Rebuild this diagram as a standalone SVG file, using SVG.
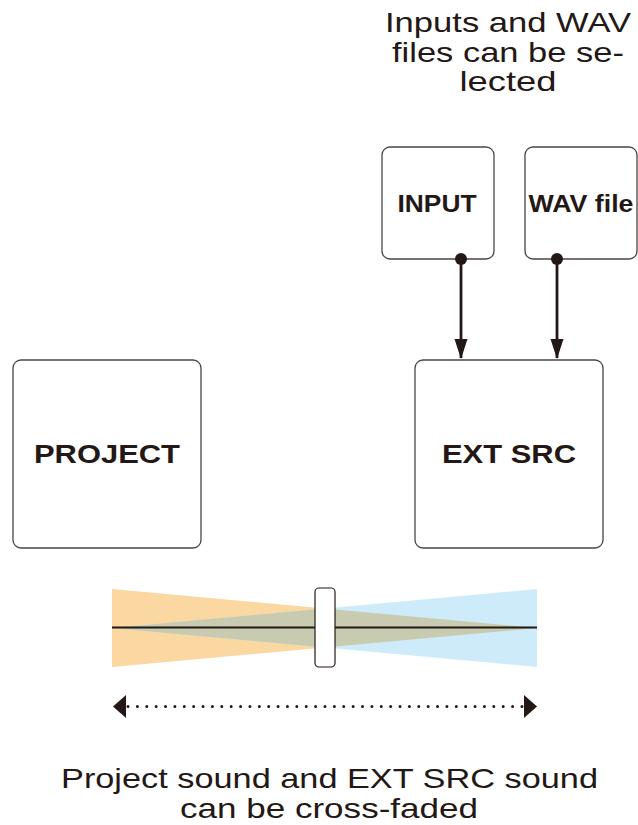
<svg xmlns="http://www.w3.org/2000/svg" width="638" height="825" viewBox="0 0 638 825">
<style>
.box{fill:#ffffff;stroke:#4a4543;stroke-width:1.3}
.lbl{font-family:"Liberation Sans",Arial,sans-serif;font-weight:bold;fill:#231815;text-anchor:middle}
.cap{font-family:"Liberation Sans",Arial,sans-serif;fill:#231815;text-anchor:middle;font-size:28px}
.conn{stroke:#231815;stroke-width:2.8;fill:none}
</style>
<defs>
<marker id="ah" viewBox="0 0 20 14" refX="19" refY="7" markerWidth="20" markerHeight="14" markerUnits="userSpaceOnUse" orient="auto">
<path d="M0,0.5 L20,7 L0,13.5 Z" fill="#231815"/>
</marker>
</defs>
<rect width="638" height="825" fill="#ffffff"/>

<g id="caption-top">
<text class="cap" x="508" y="32" textLength="246" lengthAdjust="spacingAndGlyphs">Inputs and WAV</text>
<text class="cap" x="508" y="62" textLength="232" lengthAdjust="spacingAndGlyphs">files can be se-</text>
<text class="cap" x="508" y="91" textLength="97" lengthAdjust="spacingAndGlyphs">lected</text>
</g>

<g id="input">
<rect class="box" x="382" y="147" width="112" height="112" rx="8"/>
<text class="lbl" x="437" y="212" font-size="24" textLength="79" lengthAdjust="spacingAndGlyphs">INPUT</text>
</g>
<g id="wav">
<rect class="box" x="525" y="147" width="112" height="112" rx="8"/>
<text class="lbl" x="581" y="212" font-size="24" textLength="105" lengthAdjust="spacingAndGlyphs">WAV file</text>
</g>
<g id="project">
<rect class="box" x="13" y="360" width="188" height="188" rx="8"/>
<text class="lbl" x="107" y="463" font-size="26" textLength="146" lengthAdjust="spacingAndGlyphs">PROJECT</text>
</g>
<g id="extsrc">
<rect class="box" x="415" y="360" width="188" height="188" rx="8"/>
<text class="lbl" x="509" y="463" font-size="26" textLength="134" lengthAdjust="spacingAndGlyphs">EXT SRC</text>
</g>

<g id="connectors">
<line class="conn" x1="461" y1="259" x2="461" y2="358" marker-end="url(#ah)"/>
<circle cx="461" cy="259" r="6" fill="#231815"/>
<line class="conn" x1="557" y1="259" x2="557" y2="358" marker-end="url(#ah)"/>
<circle cx="557" cy="259" r="6" fill="#231815"/>
</g>

<g id="crossfader">
<polygon points="112,589 112,667 537,628" fill="#fbd7a1"/>
<polygon points="537,589 537,667 112,628" fill="#cdebf8"/>
<polygon points="112,628 324.5,608.5 537,628 324.5,647.5" fill="#c8cbb0"/>
<line x1="112" y1="627.5" x2="537" y2="627.5" stroke="#231815" stroke-width="2"/>
<rect x="315" y="588" width="20" height="79" rx="4" fill="#ffffff" stroke="#231815" stroke-width="1.2"/>
</g>

<g id="range">
<line x1="128" y1="706.5" x2="522" y2="706.5" stroke="#231815" stroke-width="3" stroke-linecap="round" stroke-dasharray="0 9.38"/>
<path d="M113,706.5 L126,695 L126,718 Z" fill="#231815"/>
<path d="M537,706.5 L524,695 L524,718 Z" fill="#231815"/>
</g>

<g id="caption-bottom">
<text class="cap" x="329.5" y="788" font-size="29" textLength="537" lengthAdjust="spacingAndGlyphs">Project sound and EXT SRC sound</text>
<text class="cap" x="329" y="818" font-size="29" textLength="298" lengthAdjust="spacingAndGlyphs">can be cross-faded</text>
</g>
</svg>
